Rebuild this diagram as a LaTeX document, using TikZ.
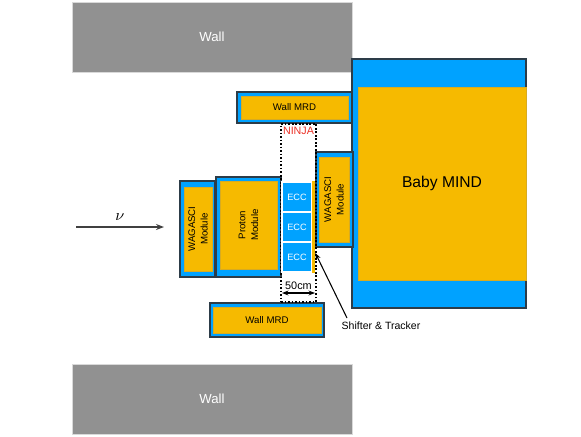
\documentclass[tikz,border=0pt]{standalone}
\usepackage{fontspec}
\setsansfont{Liberation Sans}
\usepackage{tikz}
\usetikzlibrary{arrows.meta,positioning}
\definecolor{wallgray}{RGB}{145,145,145}
\definecolor{detblue}{RGB}{0,162,255}
\definecolor{detyellow}{RGB}{246,186,0}
\definecolor{rimgray}{RGB}{45,60,72}
\definecolor{ninjared}{RGB}{235,50,40}
\newcommand{\tinysf}{\sffamily\fontsize{5.5}{7.2}\selectfont}

\begin{document}
\begin{tikzpicture}[x=0.02cm, y=-0.02cm,
    wallbox/.style={rectangle, fill=wallgray, draw=black!15, minimum width=5.6cm,
                    minimum height=1.4cm, inner sep=0pt, text=white,
                    font=\sffamily\fontsize{7.5}{9}\selectfont},
    frame/.style={rectangle, fill=detblue, draw=rimgray, line width=0.6pt, inner sep=0pt},
    core/.style={rectangle, fill=detyellow, draw=detyellow!75!gray, line width=0.3pt,
                 inner sep=0pt, align=center, font=\tinysf},
    ecc/.style={rectangle, fill=detblue, draw=white, line width=0.6pt, inner sep=0pt,
                minimum width=0.6cm, minimum height=0.6cm, text=white,
                font=\sffamily\fontsize{5.2}{6}\selectfont},
    arr/.style={-{Stealth[length=1.6mm]}, line width=0.8pt, black!75}
]
    \useasboundingbox (0,0) rectangle (581,436);

    % walls
    \node[wallbox] (wallup) at (212,37) {Wall};
    \node[wallbox] (walldown) at (212,399) {Wall};

    % Baby MIND
    \node[frame, minimum width=3.48cm, minimum height=4.98cm] (bmframe) at (439,183.5) {};
    \node[core, minimum width=3.36cm, minimum height=3.86cm,
          font=\sffamily\fontsize{8.9}{10}\selectfont] (bm) at (442,183.5) {Baby MIND};

    % Wall MRDs
    \node[frame, minimum width=2.3cm, minimum height=0.62cm] (mrdupframe) at (294.5,107.5) {};
    \node[core, minimum width=2.14cm, minimum height=0.46cm] (mrdup) at (294.5,107.5) {Wall MRD};
    \node[frame, minimum width=2.28cm, minimum height=0.68cm] (mrddownframe) at (267,320) {};
    \node[core, minimum width=2.16cm, minimum height=0.52cm] (mrddown) at (267,320) {Wall MRD};

    % WAGASCI and Proton Module
    \node[frame, minimum width=0.7cm, minimum height=1.92cm] (wgleftframe) at (197.5,229) {};
    \node[core, rotate=90, minimum width=1.68cm, minimum height=0.56cm] (wgleft) at (198,229) {WAGASCI\\Module};
    \node[frame, minimum width=1.3cm, minimum height=2.0cm] (pmframe) at (248.5,227) {};
    \node[core, rotate=90, minimum width=1.76cm, minimum height=1.14cm] (pm) at (248.5,225) {Proton\\Module};
    \node[frame, minimum width=0.74cm, minimum height=1.9cm] (wgrightframe) at (334.5,199.5) {};
    \node[core, rotate=90, minimum width=1.7cm, minimum height=0.6cm] (wgright) at (334,199.5) {WAGASCI\\Module};

    % NINJA
    \node[rectangle, draw, densely dotted, line width=1pt, minimum width=0.7cm,
          minimum height=3.56cm, inner sep=0pt] (ninja) at (298.5,213) {};
    \node[text=ninjared, font=\sffamily\fontsize{6.1}{7}\selectfont, inner sep=0pt] (ninjalbl) at (298.5,131) {NINJA};
    \node[ecc] (ecca) at (297,197) {ECC};
    \node[ecc] (eccb) at (297,227) {ECC};
    \node[ecc] (eccc) at (297,257) {ECC};
    \node[rectangle, fill=detyellow, minimum width=0.06cm, minimum height=1.84cm, inner sep=0pt] (tracker) at (313.5,227) {};

    % 50cm
    \coordinate (wl) at (282,293);
    \coordinate (wr) at (315,293);
    \draw[{Stealth[length=1.3mm]}-{Stealth[length=1.3mm]}, line width=0.6pt] (wl) -- (wr);
    \node[font=\sffamily\fontsize{6.2}{7}\selectfont, inner sep=0pt] (width) at (298.5,286) {50cm};

    % neutrino beam
    \coordinate (nustart) at (76,227);
    \coordinate (nuend) at (164,227);
    \draw[arr] (nustart) -- (nuend);
    \node[font=\small] (nu) at (120,217) {$\nu$};

    % shifter label
    \node[font=\sffamily\fontsize{6}{7}\selectfont, inner sep=0pt] (shifter) at (381,326) {Shifter \& Tracker};
    \coordinate (shiftertip) at (347,318);
    \draw[-{Stealth[length=1.3mm]}, line width=0.6pt] (shiftertip) -- (tracker.east |- 0,253);
\end{tikzpicture}
\end{document}
